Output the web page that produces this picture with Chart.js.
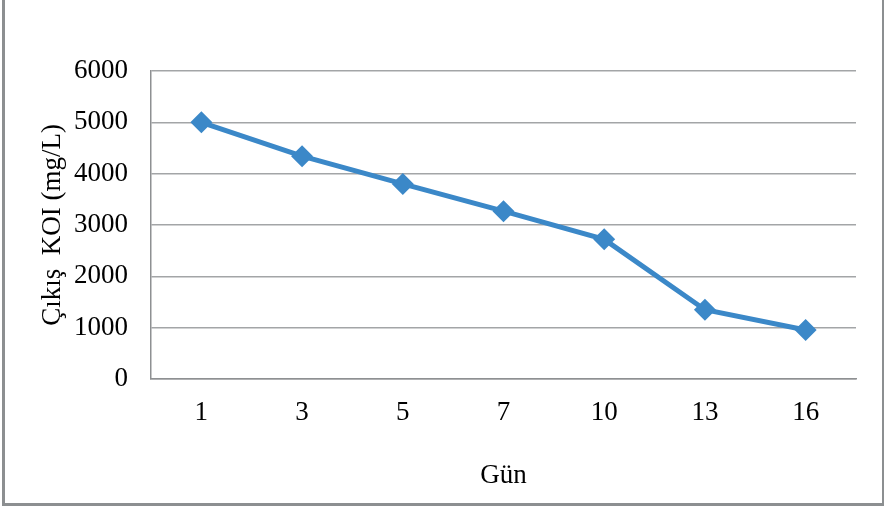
<!DOCTYPE html>
<html>
<head>
<meta charset="utf-8">
<script src="https://cdn.jsdelivr.net/npm/chart.js@4/dist/chart.umd.min.js"></script>
<style>
  body { margin: 0; background: #fff; }
  #wrap { position: relative; width: 884px; height: 508px; }
  #frame {
    position: absolute; left: 2px; top: 0; width: 877px; height: 503px;
    border-left: 3px solid #8c8f91; border-right: 3px solid #8c8f91; border-bottom: 3px solid #8c8f91;
    pointer-events: none;
  }
</style>
</head>
<body>
<div id="wrap">
  <canvas id="koiChart" width="884" height="508"></canvas>
  <div id="frame"></div>
</div>
<script>
// Günlere göre çıkış KOI değerleri
const gunler = ['1', '3', '5', '7', '10', '13', '16'];
const cikisKOI = [5000, 4340, 3800, 3270, 2720, 1350, 955];
const yTicks = [0, 1000, 2000, 3000, 4000, 5000, 6000];

const seriFont = { family: '"Liberation Serif", "Times New Roman", serif', size: 27 };
const mavi = '#3b88c8';

const ctx = document.getElementById('koiChart').getContext('2d');
new Chart(ctx, {
    type: 'line',
    data: {
        labels: gunler,
        datasets: [{
            label: 'Çıkış KOI',
            data: cikisKOI,
            borderColor: mavi,
            backgroundColor: mavi,
            borderWidth: 5,
            pointStyle: 'rectRot',
            pointRadius: 11,
            pointHoverRadius: 11,
            pointBorderWidth: 0,
            tension: 0
        }]
    },
    options: {
        responsive: false,
        animation: false,
        layout: { padding: { top: 71, right: 28, left: 0, bottom: 0 } },
        plugins: { legend: { display: false }, tooltip: { enabled: false } },
        scales: {
            x: {
                offset: true,
                grid: { display: false, drawTicks: false },
                border: { display: true, color: '#8e9092', width: 1.5 },
                ticks: { color: '#000', font: seriFont, padding: 18, maxRotation: 0 },
                title: { display: true, text: 'Gün', color: '#000', font: seriFont, padding: { top: 0, bottom: 16 } },
                afterFit: s => { s.height = 129; }
            },
            y: {
                min: 0,
                max: 6000,
                afterBuildTicks: s => { s.ticks = yTicks.map(v => ({ value: v })); },
                grid: { color: '#a3a5a7', lineWidth: 1.5, drawTicks: false },
                border: { display: true, color: '#8e9092', width: 1.5 },
                ticks: { color: '#000', font: seriFont, padding: 23, callback: v => String(v) },
                title: { display: true, text: 'Çıkış  KOI (mg/L)', color: '#000', font: seriFont, padding: { top: 37, bottom: 0 } },
                afterFit: s => { s.width = 151; }
            }
        }
    }
});
</script>
</body>
</html>
